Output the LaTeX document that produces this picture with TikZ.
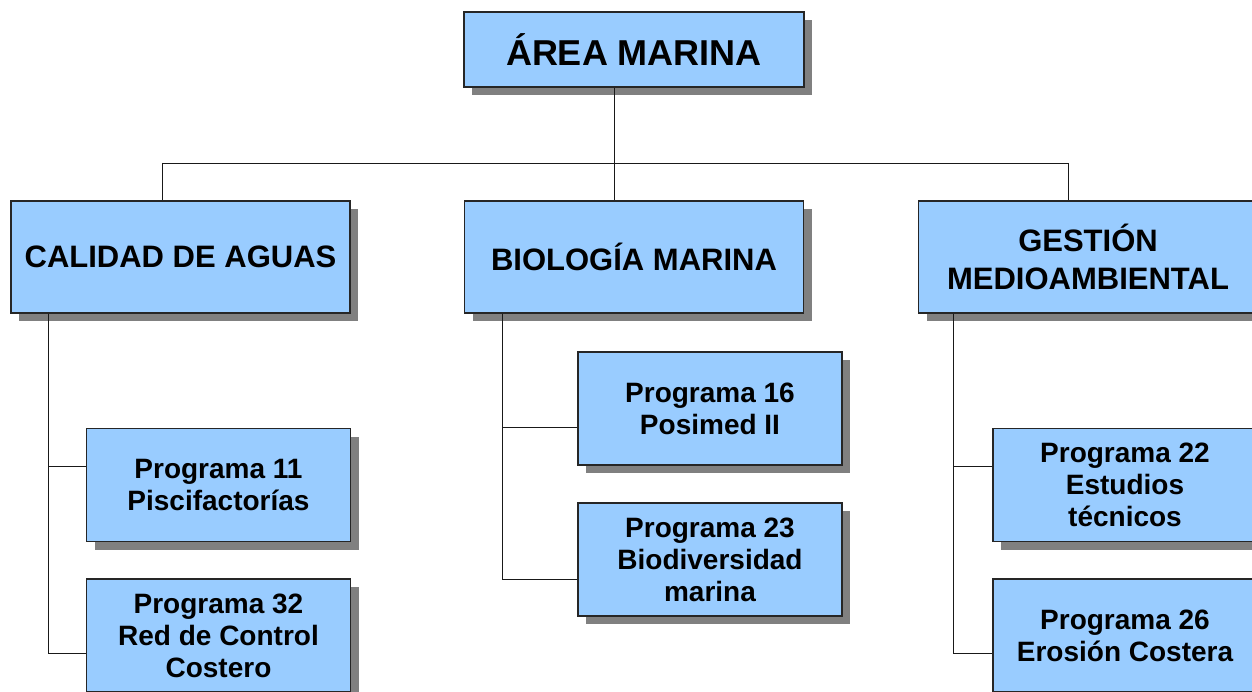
\documentclass[tikz,border=0pt]{standalone}
\usepackage{fontspec}
\setmainfont{Liberation Sans}
\usetikzlibrary{shadows}
\definecolor{boxblue}{HTML}{99CCFF}
\definecolor{shadowgray}{HTML}{808080}
\tikzset{
  unit/.style={draw=black!85, line width=1.1pt, fill=boxblue, align=center,
    drop shadow={shadow xshift=8pt, shadow yshift=-8pt, fill=shadowgray, opacity=1}},
  topbox/.style={unit, minimum width=340pt, minimum height=75pt,
    font=\fontsize{36}{40}\selectfont\bfseries},
  areabox/.style={unit, minimum width=339pt, minimum height=112pt,
    font=\fontsize{31}{38}\selectfont\bfseries},
  progbox/.style={unit, minimum width=264pt, minimum height=113pt,
    font=\fontsize{28}{32}\selectfont\bfseries},
  link/.style={draw=black!90, line width=0.9pt}
}
\begin{document}
\begin{tikzpicture}[x=1pt, y=-1pt]
  \useasboundingbox (0,0) rectangle (1252,692);
  \clip (0,0) rectangle (1252,692);
  \fill[white] (0,0) rectangle (1252,692);
  \draw ( 634,  49.5) node [topbox]  (area) {ÁREA MARINA}
        ( 180.5, 257) node [areabox] (calidad) {CALIDAD DE AGUAS}
        ( 634,   257) node [areabox] (biologia) {BIOLOGÍA MARINA}
        (1088,   257) node [areabox] (gestion) {GESTIÓN\\ MEDIOAMBIENTAL}
        ( 218.5, 485) node [progbox] (p11) {Programa 11\\ Piscifactorías}
        ( 218.5, 635.5) node [progbox] (p32) {Programa 32\\ Red de Control\\ Costero}
        ( 710,   408.5) node [progbox] (p16) {Programa 16\\ Posimed II}
        ( 710,   559.5) node [progbox] (p23) {Programa 23\\ Biodiversidad\\ marina}
        (1125,   485) node [progbox] (p22) {Programa 22\\ Estudios\\ técnicos}
        (1125,   635.5) node [progbox] (p26) {Programa 26\\ Erosión Costera};
  \coordinate (busL) at (162, 163);
  \coordinate (busM) at (614, 163);
  \coordinate (busR) at (1068, 163);
  \draw [link] (area.south -| busM) -- (busM);
  \draw [link] (busL) -- (busR);
  \draw [link] (busL) -- (busL |- calidad.north);
  \draw [link] (busM) -- (busM |- biologia.north);
  \draw [link] (busR) -- (busR |- gestion.north);
  \draw [link] ([xshift=-132pt]calidad.south) |- ([yshift=19pt]p11.west);
  \draw [link] ([xshift=-132pt]calidad.south) |- ([yshift=-17.5pt]p32.west);
  \draw [link] ([xshift=-132pt]biologia.south) |- ([yshift=-18.5pt]p16.west);
  \draw [link] ([xshift=-132pt]biologia.south) |- ([yshift=-19.5pt]p23.west);
  \draw [link] ([xshift=-135pt]gestion.south) |- ([yshift=19pt]p22.west);
  \draw [link] ([xshift=-135pt]gestion.south) |- ([yshift=-17.5pt]p26.west);
\end{tikzpicture}
\end{document}
